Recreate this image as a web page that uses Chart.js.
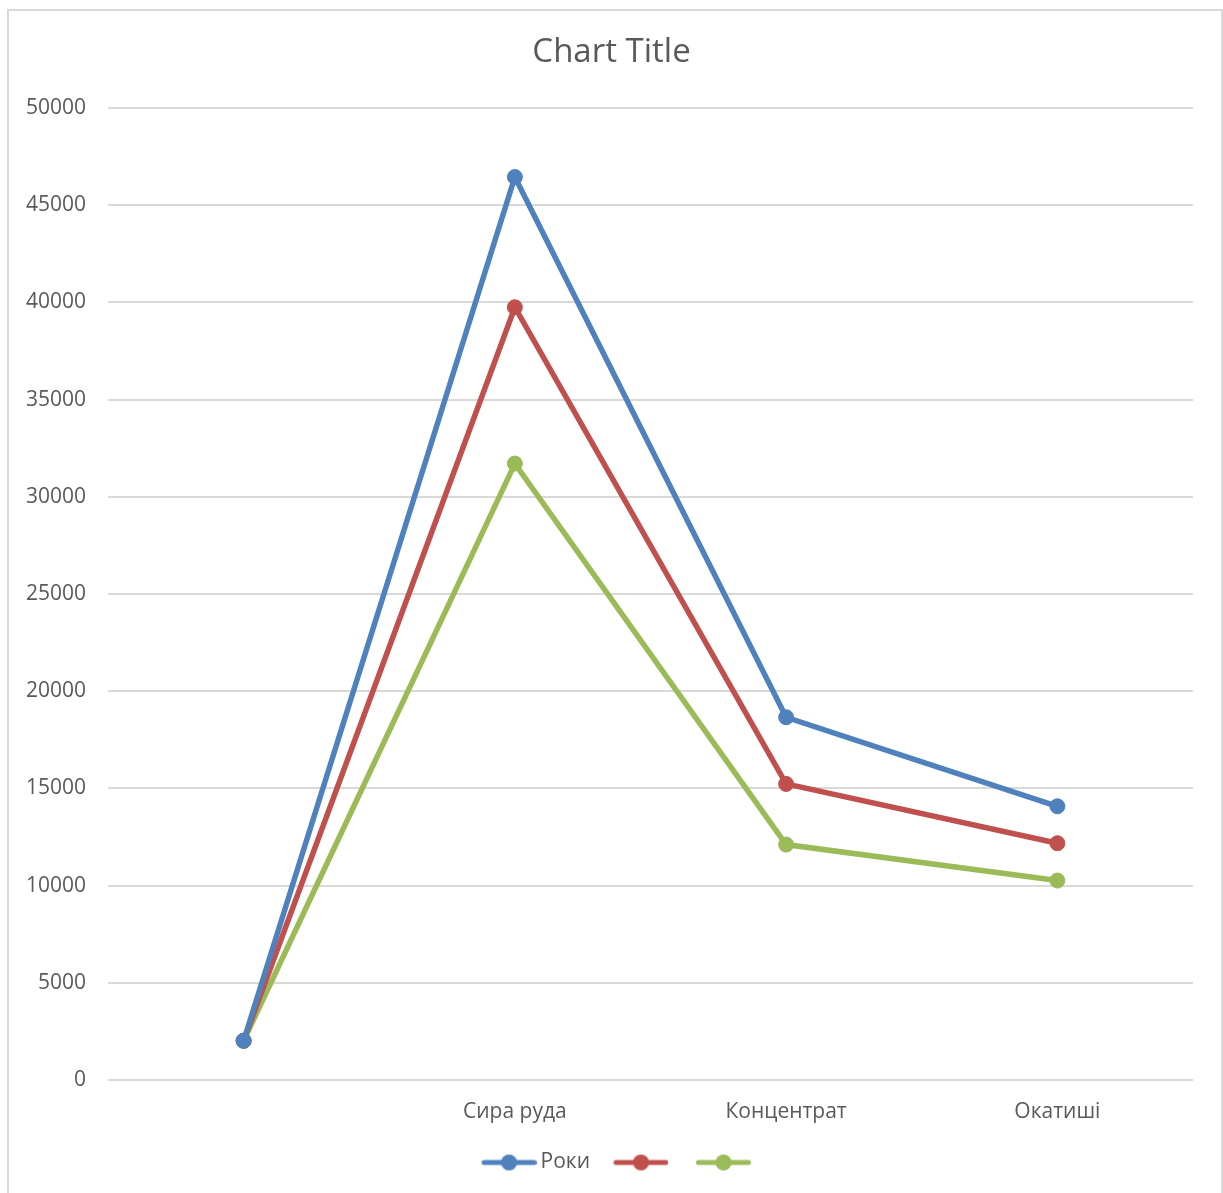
<!DOCTYPE html>
<html>
<head>
<meta charset="utf-8">
<script src="https://cdn.jsdelivr.net/npm/chart.js@4/dist/chart.umd.min.js"></script>
<style>
  html, body { margin: 0; padding: 0; background: #ffffff; }
  #wrap { width: 1223px; height: 1193px; position: relative; }
</style>
</head>
<body>
<div id="wrap"><canvas id="chart" width="1223" height="1193"></canvas></div>
<script>
// Categories along the x axis (the first row holds the year, so it has no name)
const categories = ['', 'Сира руда', 'Концентрат', 'Окатиші'];

// Series values
const seriesNames = ['Роки', '', ''];
const seriesA = [2018, 46450, 18660, 14080];
const seriesB = [2019, 39750, 15230, 12180];
const seriesC = [2020, 31710, 12110, 10260];

// Value axis ticks
const yTicks = [0, 5000, 10000, 15000, 20000, 25000, 30000, 35000, 40000, 45000, 50000];

const colors = ['#4f81bd', '#c0504d', '#9bbb59'];
const textColor = '#595959';
const FONT = '"Open Sans", "Noto Sans", sans-serif';

// Legend swatch: a short line with a round marker in the middle.
// The blank strip on its left spaces the legend entries apart.
const SWATCH_BOX = 62;
function legendSwatch(color) {
  const c = document.createElement('canvas');
  c.width = SWATCH_BOX + 13; c.height = 18;
  const g = c.getContext('2d');
  g.strokeStyle = color;
  g.lineWidth = 5;
  g.lineCap = 'round';
  g.beginPath();
  g.moveTo(22.5, 9); g.lineTo(72.5, 9);
  g.stroke();
  g.fillStyle = color;
  g.beginPath();
  g.arc(47.5, 9, 8, 0, Math.PI * 2);
  g.fill();
  return c;
}

// Outer frame around the whole chart
const framePlugin = {
  id: 'frame',
  beforeDraw(chart) {
    const ctx = chart.ctx;
    ctx.save();
    ctx.fillStyle = '#ffffff';
    ctx.fillRect(0, 0, chart.width, chart.height);
    ctx.strokeStyle = '#d9d9d9';
    ctx.lineWidth = 2;
    ctx.strokeRect(8, 10, 1214, 1300);
    ctx.restore();
  }
};

const datasets = [seriesA, seriesB, seriesC].map((vals, i) => ({
  label: seriesNames[i],
  data: vals,
  borderColor: colors[i],
  backgroundColor: colors[i],
  borderWidth: 5.5,
  pointRadius: 7.5,
  pointBorderWidth: 1,
  pointHoverRadius: 7.5,
  pointStyle: 'circle',
  tension: 0,
  fill: false
}));

new Chart(document.getElementById('chart'), {
  type: 'line',
  data: { labels: categories, datasets },
  plugins: [framePlugin],
  options: {
    responsive: false,
    animation: false,
    layout: { padding: { left: 0, right: 0, top: 0, bottom: 10 } },
    plugins: {
      title: {
        display: true,
        text: 'Chart Title',
        color: textColor,
        font: { family: FONT, size: 33, weight: 'normal' },
        padding: { top: 33, bottom: 35.4 }
      },
      legend: {
        display: true,
        position: 'bottom',
        labels: {
          color: textColor,
          font: { family: FONT, size: 21 },
          usePointStyle: true,
          pointStyleWidth: SWATCH_BOX,
          boxHeight: 18,
          padding: 10,
          generateLabels(chart) {
            return chart.data.datasets.map((ds, i) => ({
              text: ds.label,
              fillStyle: ds.borderColor,
              strokeStyle: ds.borderColor,
              lineWidth: 0,
              pointStyle: legendSwatch(ds.borderColor),
              datasetIndex: i,
              hidden: false,
              fontColor: textColor
            }));
          }
        }
      },
      tooltip: { enabled: false }
    },
    scales: {
      x: {
        offset: true,
        afterFit(scale) { scale.height = 62; },
        grid: { display: false, drawTicks: false },
        border: { display: false },
        ticks: {
          color: textColor,
          font: { family: FONT, size: 21 },
          padding: 19,
          maxRotation: 0
        }
      },
      y: {
        min: 0,
        max: 50000,
        afterFit(scale) { scale.width = 108; },
        afterBuildTicks(scale) { scale.ticks = yTicks.map(v => ({ value: v })); },
        grid: { color: '#d9d9d9', lineWidth: 2, drawTicks: false },
        border: { display: false },
        ticks: {
          color: textColor,
          font: { family: FONT, size: 21 },
          padding: 22,
          callback: v => String(v)
        }
      },
      // empty right-hand strip that keeps the plot clear of the frame
      yRight: {
        position: 'right',
        min: 0,
        max: 50000,
        afterFit(scale) { scale.width = 30; },
        grid: { display: false, drawTicks: false },
        border: { display: false },
        ticks: { display: false }
      }
    }
  }
});
</script>
</body>
</html>
